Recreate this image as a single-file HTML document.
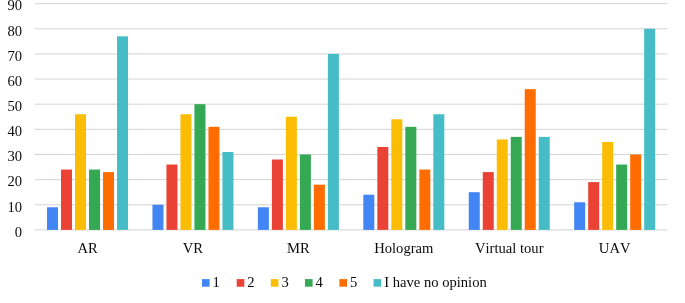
<!DOCTYPE html><html><head><meta charset="utf-8"><style>html,body{margin:0;padding:0;background:#fff}svg{display:block;will-change:transform;opacity:0.999}text{font-kerning:none;font-family:"Liberation Serif",serif;font-size:14.6px;fill:#0a0a0a}</style></head><body>
<svg width="685" height="303" viewBox="0 0 685 303">
<rect width="685" height="303" fill="#fff"/>
<rect x="34.8" y="229.40" width="632.6" height="1" fill="#d4d4d4"/>
<text x="22.1" y="236.70" text-anchor="end">0</text>
<rect x="34.8" y="204.26" width="632.6" height="1" fill="#d4d4d4"/>
<text x="22.1" y="211.56" text-anchor="end">10</text>
<rect x="34.8" y="179.12" width="632.6" height="1" fill="#d4d4d4"/>
<text x="22.1" y="186.42" text-anchor="end">20</text>
<rect x="34.8" y="153.98" width="632.6" height="1" fill="#d4d4d4"/>
<text x="22.1" y="161.28" text-anchor="end">30</text>
<rect x="34.8" y="128.84" width="632.6" height="1" fill="#d4d4d4"/>
<text x="22.1" y="136.14" text-anchor="end">40</text>
<rect x="34.8" y="103.70" width="632.6" height="1" fill="#d4d4d4"/>
<text x="22.1" y="111.00" text-anchor="end">50</text>
<rect x="34.8" y="78.56" width="632.6" height="1" fill="#d4d4d4"/>
<text x="22.1" y="85.86" text-anchor="end">60</text>
<rect x="34.8" y="53.42" width="632.6" height="1" fill="#d4d4d4"/>
<text x="22.1" y="60.72" text-anchor="end">70</text>
<rect x="34.8" y="28.28" width="632.6" height="1" fill="#d4d4d4"/>
<text x="22.1" y="35.58" text-anchor="end">80</text>
<rect x="34.8" y="3.14" width="632.6" height="1" fill="#d4d4d4"/>
<text x="22.1" y="10.44" text-anchor="end">90</text>
<rect x="47.02" y="207.27" width="11" height="22.63" fill="#4285f4"/>
<rect x="61.02" y="169.56" width="11" height="60.34" fill="#ea4335"/>
<rect x="75.02" y="114.26" width="11" height="115.64" fill="#fbbc04"/>
<rect x="89.02" y="169.56" width="11" height="60.34" fill="#34a853"/>
<rect x="103.02" y="172.08" width="11" height="57.82" fill="#ff6d01"/>
<rect x="117.02" y="36.32" width="11" height="193.58" fill="#46bdc6"/>
<text x="87.52" y="252.6" text-anchor="middle">AR</text>
<rect x="152.45" y="204.76" width="11" height="25.14" fill="#4285f4"/>
<rect x="166.45" y="164.54" width="11" height="65.36" fill="#ea4335"/>
<rect x="180.45" y="114.26" width="11" height="115.64" fill="#fbbc04"/>
<rect x="194.45" y="104.20" width="11" height="125.70" fill="#34a853"/>
<rect x="208.45" y="126.83" width="11" height="103.07" fill="#ff6d01"/>
<rect x="222.45" y="151.97" width="11" height="77.93" fill="#46bdc6"/>
<text x="192.95" y="252.6" text-anchor="middle">VR</text>
<rect x="257.88" y="207.27" width="11" height="22.63" fill="#4285f4"/>
<rect x="271.88" y="159.51" width="11" height="70.39" fill="#ea4335"/>
<rect x="285.88" y="116.77" width="11" height="113.13" fill="#fbbc04"/>
<rect x="299.88" y="154.48" width="11" height="75.42" fill="#34a853"/>
<rect x="313.88" y="184.65" width="11" height="45.25" fill="#ff6d01"/>
<rect x="327.88" y="53.92" width="11" height="175.98" fill="#46bdc6"/>
<text x="298.38" y="252.6" text-anchor="middle">MR</text>
<rect x="363.32" y="194.70" width="11" height="35.20" fill="#4285f4"/>
<rect x="377.32" y="146.94" width="11" height="82.96" fill="#ea4335"/>
<rect x="391.32" y="119.28" width="11" height="110.62" fill="#fbbc04"/>
<rect x="405.32" y="126.83" width="11" height="103.07" fill="#34a853"/>
<rect x="419.32" y="169.56" width="11" height="60.34" fill="#ff6d01"/>
<rect x="433.32" y="114.26" width="11" height="115.64" fill="#46bdc6"/>
<text x="403.82" y="252.6" text-anchor="middle">Hologram</text>
<rect x="468.75" y="192.19" width="11" height="37.71" fill="#4285f4"/>
<rect x="482.75" y="172.08" width="11" height="57.82" fill="#ea4335"/>
<rect x="496.75" y="139.40" width="11" height="90.50" fill="#fbbc04"/>
<rect x="510.75" y="136.88" width="11" height="93.02" fill="#34a853"/>
<rect x="524.75" y="89.12" width="11" height="140.78" fill="#ff6d01"/>
<rect x="538.75" y="136.88" width="11" height="93.02" fill="#46bdc6"/>
<text x="509.25" y="252.6" text-anchor="middle">Virtual tour</text>
<rect x="574.18" y="202.25" width="11" height="27.65" fill="#4285f4"/>
<rect x="588.18" y="182.13" width="11" height="47.77" fill="#ea4335"/>
<rect x="602.18" y="141.91" width="11" height="87.99" fill="#fbbc04"/>
<rect x="616.18" y="164.54" width="11" height="65.36" fill="#34a853"/>
<rect x="630.18" y="154.48" width="11" height="75.42" fill="#ff6d01"/>
<rect x="644.18" y="28.78" width="11" height="201.12" fill="#46bdc6"/>
<text x="614.68" y="252.6" text-anchor="middle">UAV</text>
<rect x="202.00" y="279.1" width="7.6" height="7.6" fill="#4285f4"/>
<text x="212.60" y="287">1</text>
<rect x="236.70" y="279.1" width="7.6" height="7.6" fill="#ea4335"/>
<text x="247.30" y="287">2</text>
<rect x="270.80" y="279.1" width="7.6" height="7.6" fill="#fbbc04"/>
<text x="281.40" y="287">3</text>
<rect x="305.00" y="279.1" width="7.6" height="7.6" fill="#34a853"/>
<text x="315.60" y="287">4</text>
<rect x="339.40" y="279.1" width="7.6" height="7.6" fill="#ff6d01"/>
<text x="350.00" y="287">5</text>
<rect x="373.60" y="279.1" width="7.6" height="7.6" fill="#46bdc6"/>
<text x="384.20" y="287">I have no opinion</text>
</svg></body></html>
